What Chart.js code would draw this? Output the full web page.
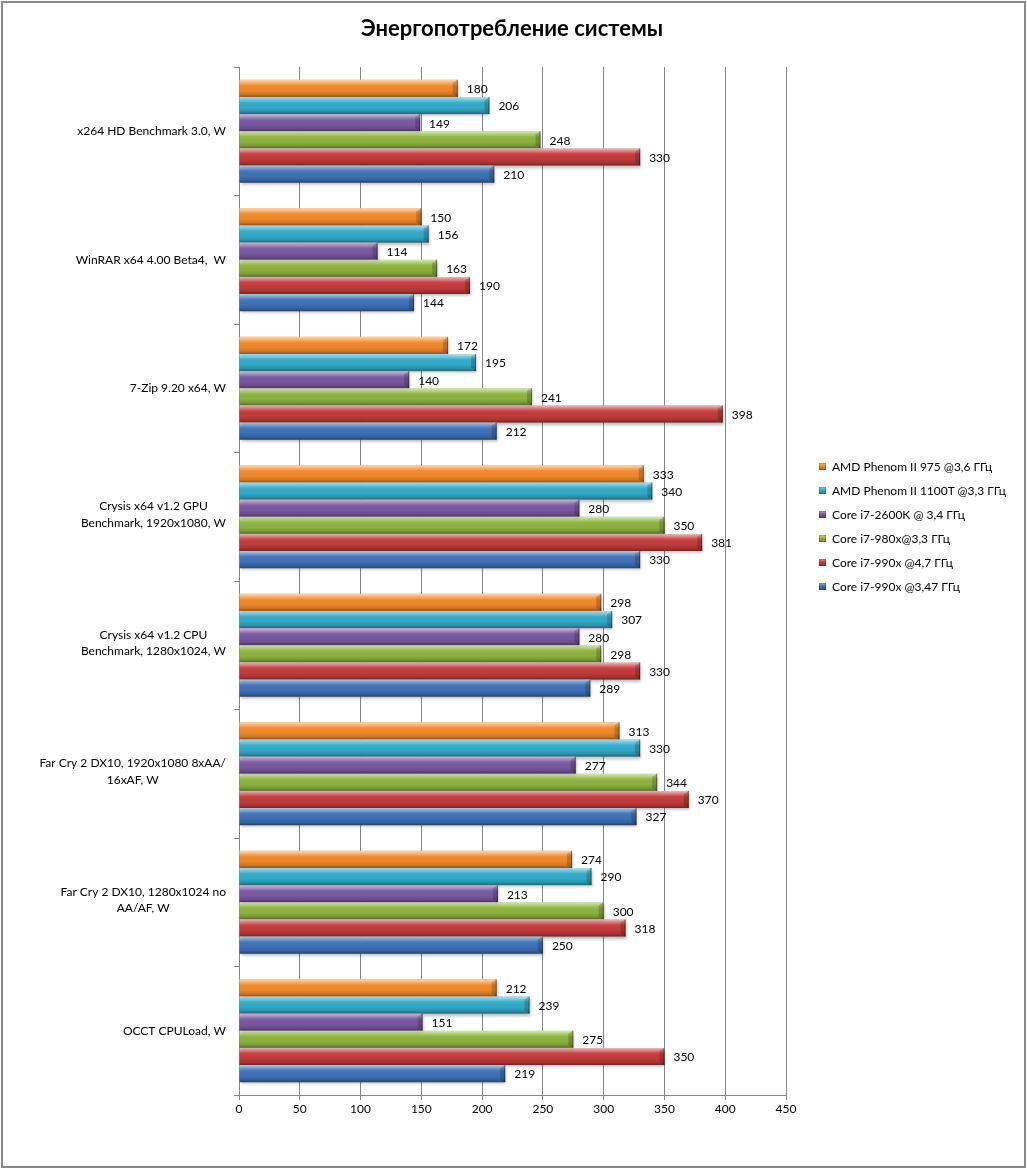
<!DOCTYPE html>
<html>
<head>
<meta charset="utf-8">
<script src="https://cdn.jsdelivr.net/npm/chart.js@4.4.0/dist/chart.umd.min.js"></script>
<style>
  html, body { margin: 0; padding: 0; background: #fff; }
  #wrap { position: relative; width: 1027px; height: 1169px; overflow: hidden; }
  #chart { position: absolute; left: 0; top: 0; }
  #frame { position: absolute; left: 1px; top: 1px; width: 1021px; height: 1163px; border: 2px solid #888; pointer-events: none; }
  #title { position: absolute; left: 0; top: 15px; width: 1024px; text-align: center; font: bold 22px/26px Lato, "Open Sans", sans-serif; color: #000; }
  #legend { position: absolute; left: 817px; top: 454px; font: 12px Lato, "Open Sans", sans-serif; color: #000; }
  .li { height: 24px; display: flex; align-items: center; white-space: nowrap; }
  .sw { width: 7px; height: 7px; margin: 0 6px 0 2px; box-shadow: 0 0 0 0.5px rgba(0,0,0,0.35) inset; }
</style>
</head>
<body>
<div id="wrap">
  <canvas id="chart" width="1027" height="1169"></canvas>
  <div id="title"></div>
  <div id="legend"></div>
  <div id="frame"></div>
</div>
<script>
// ---- data ----
const categories = [
  ["x264 HD Benchmark 3.0, W"],
  ["WinRAR x64 4.00 Beta4,  W"],
  ["7-Zip 9.20 x64, W"],
  ["Crysis x64 v1.2 GPU", "Benchmark, 1920x1080, W"],
  ["Crysis x64 v1.2 CPU", "Benchmark, 1280x1024, W"],
  ["Far Cry 2 DX10, 1920x1080 8xAA/", "16xAF, W"],
  ["Far Cry 2 DX10, 1280x1024 no", "AA/AF, W"],
  ["OCCT CPULoad, W"]
];
const seriesNames = [
  "AMD Phenom II 975 @3,6 ГГц",
  "AMD Phenom II 1100T @3,3 ГГц",
  "Core i7-2600K @ 3,4 ГГц",
  "Core i7-980x@3,3 ГГц",
  "Core i7-990x @4,7 ГГц",
  "Core i7-990x @3,47 ГГц"
];
const phenom975   = [180, 150, 172, 333, 298, 313, 274, 212];
const phenom1100T = [206, 156, 195, 340, 307, 330, 290, 239];
const i7_2600K    = [149, 114, 140, 280, 280, 277, 213, 151];
const i7_980x     = [248, 163, 241, 350, 298, 344, 300, 275];
const i7_990x_47  = [330, 190, 398, 381, 330, 370, 318, 350];
const i7_990x_347 = [210, 144, 212, 330, 289, 327, 250, 219];
const xTickValues = [0, 50, 100, 150, 200, 250, 300, 350, 400, 450];
const chartTitle = "Энергопотребление системы";

// ---- style ----
const seriesValues = [phenom975, phenom1100T, i7_2600K, i7_980x, i7_990x_47, i7_990x_347];
const seriesColors = ["#F0882A", "#33A9C8", "#7A57A2", "#8DB23F", "#C33B3C", "#3F70B7"];
const FONT = 'Lato, "Open Sans", sans-serif';
const AXIS = "#868686";

document.getElementById("title").textContent = chartTitle;

// HTML legend built from the series arrays
const legendEl = document.getElementById("legend");
seriesNames.forEach((name, i) => {
  const row = document.createElement("div");
  row.className = "li";
  const sw = document.createElement("span");
  sw.className = "sw";
  sw.style.background = "linear-gradient(to bottom, rgba(255,255,255,0.45), rgba(255,255,255,0) 45%, rgba(0,0,0,0.25)), " + seriesColors[i];
  const tx = document.createElement("span");
  tx.textContent = name;
  row.appendChild(sw); row.appendChild(tx);
  legendEl.appendChild(row);
});

const shadowPlugin = {
  id: "shadow",
  beforeDatasetsDraw(chart) {
    const ctx = chart.ctx;
    ctx.save();
    ctx.shadowColor = "rgba(0,0,0,0.28)";
    ctx.shadowBlur = 3;
    ctx.shadowOffsetX = 1;
    ctx.shadowOffsetY = 2;
  },
  afterDatasetsDraw(chart) {
    const ctx = chart.ctx;
    ctx.restore();
    // bevel shading on each bar element
    chart.data.datasets.forEach((ds, di) => {
      const meta = chart.getDatasetMeta(di);
      meta.data.forEach(el => {
        const left = Math.min(el.base, el.x), right = Math.max(el.base, el.x);
        const top = el.y - el.height / 2, bottom = el.y + el.height / 2;
        const g = ctx.createLinearGradient(0, top, 0, bottom);
        g.addColorStop(0, "rgba(255,255,255,0.65)");
        g.addColorStop(0.14, "rgba(255,255,255,0.40)");
        g.addColorStop(0.32, "rgba(255,255,255,0.06)");
        g.addColorStop(0.6, "rgba(0,0,0,0)");
        g.addColorStop(0.84, "rgba(0,0,0,0.14)");
        g.addColorStop(1, "rgba(0,0,0,0.40)");
        ctx.save();
        ctx.fillStyle = g;
        ctx.fillRect(left, top, right - left, bottom - top);
        // right-end bevel
        ctx.beginPath();
        ctx.moveTo(right - 5, top + 3);
        ctx.lineTo(right, top);
        ctx.lineTo(right, bottom);
        ctx.lineTo(right - 5, bottom - 3);
        ctx.closePath();
        ctx.fillStyle = "rgba(0,0,0,0.18)";
        ctx.fill();
        ctx.fillStyle = "rgba(0,0,0,0.35)";
        ctx.fillRect(right - 1, top, 1, bottom - top);
        ctx.restore();
      });
    });
    // value labels
    ctx.save();
    ctx.font = "12px " + FONT;
    ctx.fillStyle = "#000";
    ctx.textAlign = "left";
    ctx.textBaseline = "middle";
    chart.data.datasets.forEach((ds, di) => {
      const meta = chart.getDatasetMeta(di);
      meta.data.forEach((el, i) => {
        ctx.fillText(String(ds.data[i]), el.x + 9, el.y + 1);
      });
    });
    ctx.restore();
  }
};

const catLabelPlugin = {
  id: "catLabels",
  afterDraw(chart) {
    const ctx = chart.ctx;
    const ys = chart.scales.y;
    const rightEdge = chart.chartArea.left - 13;
    const lh = 16.5;
    ctx.save();
    ctx.font = "12px " + FONT;
    ctx.fillStyle = "#000";
    ctx.textAlign = "center";
    ctx.textBaseline = "middle";
    chart.data.labels.forEach((lines, i) => {
      const yc = ys.getPixelForTick(i);
      const w = Math.max(...lines.map(l => ctx.measureText(l).width));
      const cx = rightEdge - w / 2;
      const y0 = yc - (lines.length - 1) * lh / 2 - (lines.length > 1 ? 2 : 0);
      lines.forEach((l, k) => ctx.fillText(l, cx, y0 + k * lh));
    });
    ctx.restore();
  }
};

new Chart(document.getElementById("chart"), {
  type: "bar",
  data: {
    labels: categories,
    datasets: seriesNames.map((n, i) => ({
      label: n,
      data: seriesValues[i],
      backgroundColor: seriesColors[i],
      borderWidth: 0,
      categoryPercentage: 0.8,
      barPercentage: 1.0
    }))
  },
  options: {
    indexAxis: "y",
    responsive: false,
    animation: false,
    devicePixelRatio: 1,
    layout: { padding: { left: 0, right: 241, top: 67, bottom: 0 } },
    plugins: {
      legend: { display: false },
      tooltip: { enabled: false },
      title: { display: false }
    },
    scales: {
      x: {
        type: "linear",
        min: 0,
        max: 450,
        afterBuildTicks: s => { s.ticks = xTickValues.map(v => ({ value: v })); },
        afterFit: s => { s.height = 74; },
        grid: { color: AXIS, lineWidth: 1, tickLength: 5, drawTicks: true },
        border: { display: true, color: AXIS, width: 1 },
        ticks: { color: "#000", padding: 2, font: { family: FONT, size: 12 } }
      },
      y: {
        type: "category",
        afterFit: s => { s.width = 239; },
        grid: { display: true, drawOnChartArea: false, drawTicks: true, tickLength: 5, color: AXIS, offset: true },
        border: { display: true, color: AXIS, width: 1 },
        ticks: { display: false }
      }
    }
  },
  plugins: [shadowPlugin, catLabelPlugin]
});
</script>
</body>
</html>
